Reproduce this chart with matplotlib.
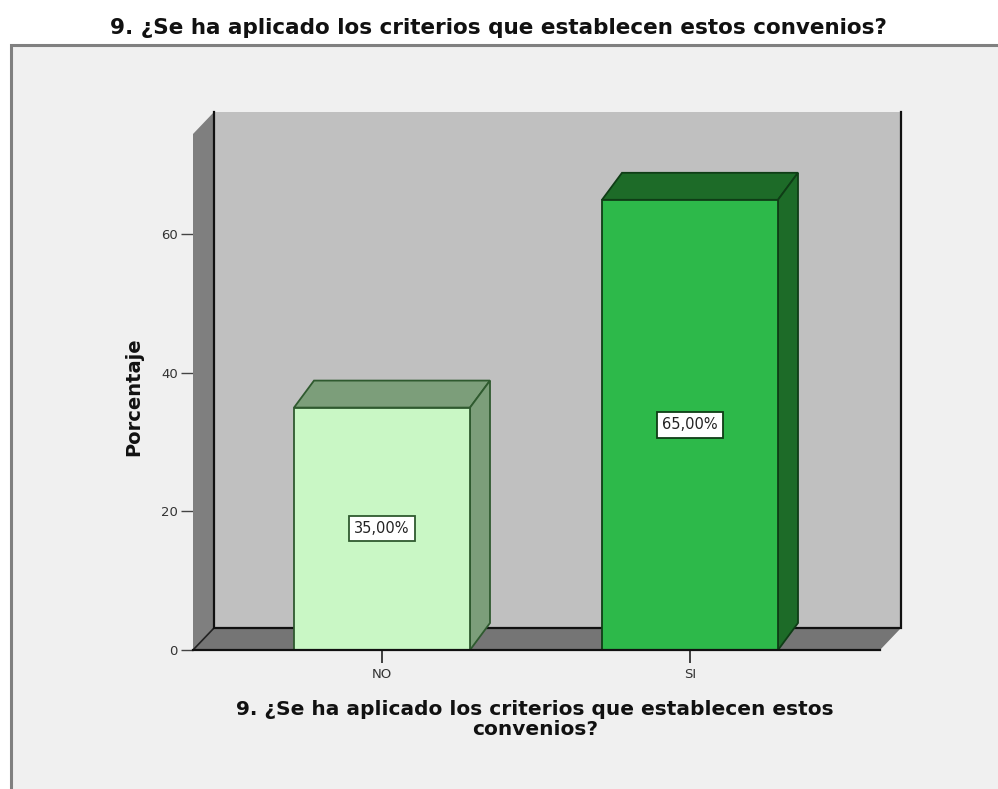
import matplotlib
matplotlib.use("Agg")
import matplotlib.pyplot as plt
from matplotlib.patches import Polygon, Rectangle

# Survey data
categories = ["NO", "SI"]
percentages = [35.0, 65.0]
value_labels = ["35,00%", "65,00%"]
y_ticks = [0, 20, 40, 60]
title = "9. ¿Se ha aplicado los criterios que establecen estos convenios?"
x_title = "9. ¿Se ha aplicado los criterios que establecen estos\nconvenios?"
y_title = "Porcentaje"

front_colors = ["#c9f7c5", "#2db94a"]
shade_colors = ["#7c9e7a", "#1d6b28"]
edge_colors = ["#2f5a2f", "#0f3d16"]

W, H = 998, 789
fig = plt.figure(figsize=(W / 100, H / 100), dpi=100, facecolor="white")

# outer panel
fig.patches.append(Rectangle((11 / W, -0.05), 1.1, (H - 45) / H + 0.05,
                             transform=fig.transFigure, facecolor="#f0f0f0",
                             edgecolor="#808080", linewidth=2.2, zorder=-10))

fig.text(498 / W, 1 - 28 / H, title, ha="center", va="center",
         fontsize=15.5, fontweight="bold", color="#111111")

ax_l, ax_r, ax_b, ax_t = 193, 880, 650, 134
ax = fig.add_axes([ax_l / W, 1 - ax_b / H, (ax_r - ax_l) / W, (ax_b - ax_t) / H])
ax.set_facecolor("none")
ax.set_ylim(0, 74.5)
px_per_x = 308.0
xmin = -(382 - ax_l) / px_per_x
xmax = 1 + (ax_r - 690) / px_per_x
ax.set_xlim(xmin, xmax)
ymin, ymax = ax.get_ylim()


def depth(dx_px, dy_px):
    inv = ax.transData.inverted()
    x0, y0 = inv.transform((0, 0))
    x1, y1 = inv.transform((dx_px, dy_px))
    return x1 - x0, y1 - y0


wdx, wdy = depth(21, 22)
bdx, bdy = depth(20, 27)

# walls and floor
ax.add_patch(Polygon([(xmin + wdx, wdy), (xmax + wdx, wdy), (xmax + wdx, ymax + wdy),
                      (xmin + wdx, ymax + wdy)], closed=True, facecolor="#c0c0c0",
                     edgecolor="none", zorder=1, clip_on=False))
ax.add_patch(Polygon([(xmin, 0), (xmin, ymax), (xmin + wdx, ymax + wdy),
                      (xmin + wdx, wdy)], closed=True, facecolor="#7f7f7f",
                     edgecolor="none", zorder=2, clip_on=False))
ax.add_patch(Polygon([(xmin, 0), (xmax, 0), (xmax + wdx, wdy), (xmin + wdx, wdy)],
                     closed=True, facecolor="#757575", edgecolor="none",
                     zorder=2, clip_on=False))
ax.plot([xmin + wdx, xmin + wdx, xmax + wdx, xmax + wdx],
        [ymax + wdy, wdy, wdy, ymax + wdy], color="#111111", lw=1.6,
        zorder=2.6, clip_on=False, solid_joinstyle="miter")
ax.plot([xmin, xmin + wdx], [0, wdy], color="#222222", lw=1.2, zorder=2.5, clip_on=False)

# bars with depth
x = list(range(len(categories)))
bw = 176 / px_per_x
bars = ax.bar(x, percentages, width=bw, color=front_colors, edgecolor=edge_colors,
              linewidth=1.3, zorder=5)
for xi, h, sc, ec in zip(x, percentages, shade_colors, edge_colors):
    l, r = xi - bw / 2, xi + bw / 2
    ax.add_patch(Polygon([(l, h), (r, h), (r + bdx, h + bdy), (l + bdx, h + bdy)],
                         closed=True, facecolor=sc, edgecolor=ec, lw=1.3, zorder=4,
                         clip_on=False))
    ax.add_patch(Polygon([(r, 0), (r, h), (r + bdx, h + bdy), (r + bdx, bdy)],
                         closed=True, facecolor=sc, edgecolor=ec, lw=1.3, zorder=4,
                         clip_on=False))

for xi, h, lab, ec in zip(x, percentages, value_labels, edge_colors):
    ax.text(xi, h / 2, lab, ha="center", va="center", fontsize=10.5, color="#222222",
            zorder=6, bbox=dict(boxstyle="square,pad=0.35", facecolor="white",
                                edgecolor=ec, linewidth=1.3))

# axes styling
for s in ["top", "right", "left"]:
    ax.spines[s].set_visible(False)
ax.spines["bottom"].set_color("#111111")
ax.spines["bottom"].set_linewidth(1.6)
ax.spines["bottom"].set_zorder(6)
ax.set_yticks(y_ticks)
ax.set_yticklabels([str(t) for t in y_ticks])
ax.set_xticks(x)
ax.set_xticklabels(categories)
ax.tick_params(axis="y", length=9, width=1, color="#444444", labelsize=9.5,
               labelcolor="#333333", pad=2)
ax.tick_params(axis="x", length=9, width=1.2, color="#222222", labelsize=9.5,
               labelcolor="#333333", pad=4)

ax.set_ylabel(y_title, fontsize=14, fontweight="bold", color="#111111")
ax.yaxis.set_label_coords(-(ax_l - 143) / (ax_r - ax_l), 0.49)
ax.set_xlabel(x_title, fontsize=14.5, fontweight="bold", color="#111111",
              linespacing=1.08)
ax.xaxis.set_label_coords((535 - ax_l) / (ax_r - ax_l), -(700 - ax_b) / (ax_b - ax_t))
ax.xaxis.label.set_va("top")

fig.savefig("out.png", dpi=100, facecolor="white")
